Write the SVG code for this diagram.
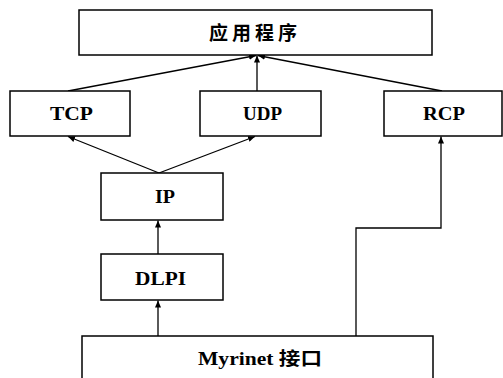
<svg xmlns="http://www.w3.org/2000/svg" width="503" height="378" viewBox="0 0 503 378">
<defs>
<style>
.box{fill:#fff;stroke:#000;stroke-width:1.5}
.t{font-family:"Liberation Serif","Noto Sans CJK SC",serif;font-weight:bold;font-size:18px;text-anchor:middle;fill:#000}
.c{font-family:"Noto Sans CJK SC",sans-serif;font-weight:bold;font-size:19px;text-anchor:middle;fill:#000}
.ln{fill:none;stroke:#000;stroke-width:1.3;marker-end:url(#ah)}
</style>
<marker id="ah" markerUnits="userSpaceOnUse" markerWidth="8" markerHeight="6" refX="7" refY="3" orient="auto">
<path d="M0,0 L7,3 L0,6 Z" fill="#000"/>
</marker>
</defs>
<rect width="503" height="378" fill="#fff"/>
<g id="connectors">
<line class="ln" x1="68" y1="91" x2="256" y2="55.5"/>
<line class="ln" x1="257" y1="91" x2="257" y2="55.5"/>
<line class="ln" x1="442" y1="91" x2="258" y2="55.5"/>
<line class="ln" x1="159" y1="173" x2="68" y2="136.5"/>
<line class="ln" x1="159" y1="173" x2="255" y2="136.5"/>
<line class="ln" x1="158" y1="254" x2="158" y2="220.5"/>
<line class="ln" x1="158" y1="336" x2="158" y2="300.5"/>
<polyline class="ln" points="356,336 356,228 441,228 441,136.5"/>
</g>
<g id="app">
<rect class="box" x="79" y="10" width="353" height="45"/>
<text class="c" x="253" y="40" textLength="88" lengthAdjust="spacing">应用程序</text>
</g>
<g id="tcp">
<rect class="box" x="10" y="91" width="120" height="45"/>
<text class="t" x="71.5" y="120" textLength="43" lengthAdjust="spacingAndGlyphs">TCP</text>
</g>
<g id="udp">
<rect class="box" x="200" y="91" width="121" height="45"/>
<text class="t" x="262.5" y="120" textLength="39" lengthAdjust="spacingAndGlyphs">UDP</text>
</g>
<g id="rcp">
<rect class="box" x="384" y="91" width="118" height="45"/>
<text class="t" x="444" y="120" textLength="42" lengthAdjust="spacingAndGlyphs">RCP</text>
</g>
<g id="ip">
<rect class="box" x="101" y="173" width="122" height="47"/>
<text class="t" x="165" y="203" textLength="20" lengthAdjust="spacingAndGlyphs">IP</text>
</g>
<g id="dlpi">
<rect class="box" x="101" y="254" width="122" height="46"/>
<text class="t" x="160.5" y="285" textLength="51" lengthAdjust="spacingAndGlyphs">DLPI</text>
</g>
<g id="myrinet">
<rect class="box" x="82" y="336" width="351" height="60"/>
<text class="t" x="260" y="365" textLength="124" lengthAdjust="spacingAndGlyphs">Myrinet 接口</text>
</g>
</svg>
